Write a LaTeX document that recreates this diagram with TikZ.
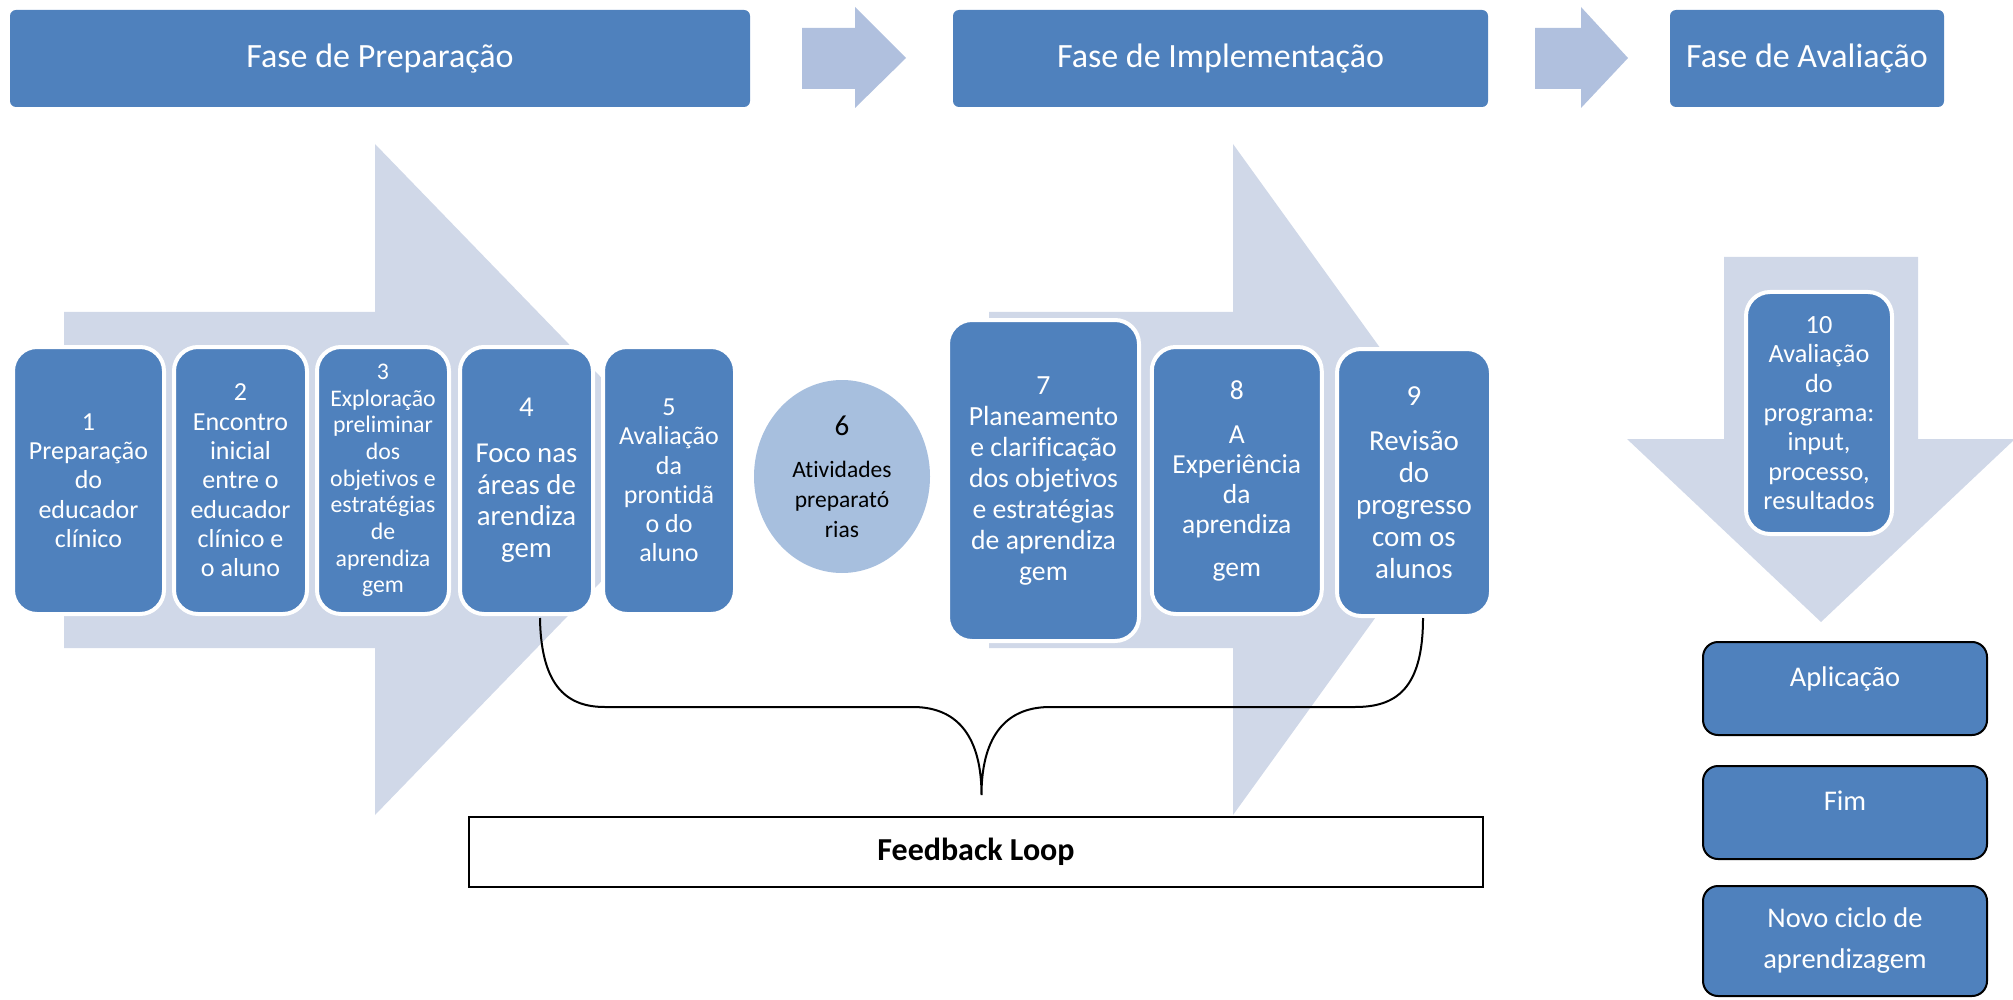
\documentclass[tikz,border=0pt]{standalone}
\usepackage{fontspec}
\setmainfont{Carlito}[Ligatures=NoCommon]
\usetikzlibrary{shapes.geometric}
\definecolor{boxblue}{HTML}{4F81BD}
\definecolor{bigarrow}{HTML}{D0D8E8}
\definecolor{hdrarrow}{HTML}{B0C0DE}
\definecolor{circfill}{HTML}{A7BFDE}
\newcommand{\setfs}[2]{\fontsize{#1}{#2}\selectfont}
\begin{document}
\begin{tikzpicture}[x=1pt,y=-1pt,
  hdrbox/.style={rectangle, rounded corners=6pt, fill=boxblue, text=white, inner sep=0pt, minimum height=97pt, font=\setfs{34}{40}},
  hdrarr/.style={fill=hdrarrow},
  bigarr/.style={fill=bigarrow},
  stepbox/.style={rectangle, rounded corners=24pt, fill=boxblue, draw=white, line width=4pt, text=white, align=center, inner sep=0pt},
  endbox/.style={rectangle, rounded corners=15pt, fill=boxblue, draw=black, line width=2pt, text=white, align=center, inner sep=0pt, minimum width=284pt, font=\setfs{28.5}{41}},
  circ/.style={ellipse, fill=circfill, text=black, align=center, inner sep=0pt},
  fbbox/.style={rectangle, draw=black, line width=2pt, fill=white, inner sep=0pt, font=\bfseries\setfs{32}{38}},
  bracel/.style={draw=black, line width=2pt}]
\useasboundingbox (0,0) rectangle (2013,1000);

% background big arrows
\fill[bigarr] (64,312) -- (375,312) -- (375,144) -- (700,479.5) -- (375,815) -- (375,648) -- (64,648) -- cycle;
\fill[bigarr] (989,312) -- (1233,312) -- (1233,144) -- (1475,479.5) -- (1233,815) -- (1233,648) -- (989,648) -- cycle;
\fill[bigarr] (1724,257) -- (1918,257) -- (1918,439) -- (2015,439) -- (1821,622) -- (1627,439) -- (1724,439) -- cycle;

% header
\node[hdrbox, minimum width=740pt] (h1) at (380,58.5) {Fase de Preparação};
\node[hdrbox, minimum width=535pt] (h2) at (1220.5,58.5) {Fase de Implementação};
\node[hdrbox, minimum width=274pt] (h3) at (1807,58.5) {Fase de Avaliação};
\fill[hdrarr] (802,28) -- (855,28) -- (855,7) -- (906,58) -- (855,108) -- (855,89) -- (802,89) -- cycle;
\fill[hdrarr] (1535,28) -- (1581,28) -- (1581,7) -- (1628,58) -- (1581,108) -- (1581,89) -- (1535,89) -- cycle;

% steps
\node[stepbox, minimum width=151pt, minimum height=267pt, font=\setfs{26}{29.3}] (s1) at (88.5,480.5)
  {1\\Preparação\\do\\educador\\clínico};
\node[stepbox, minimum width=133pt, minimum height=267pt, font=\setfs{26}{29.3}] (s2) at (240.5,480.5)
  {2\\Encontro\\inicial\\entre o\\educador\\clínico e\\o aluno};
\node[stepbox, minimum width=132pt, minimum height=267pt, font=\setfs{23.8}{26.7}] (s3) at (383,480.5)
  {3\\Exploração\\preliminar\\dos\\objetivos e\\estratégias\\de\\aprendiza\\gem};
\node[stepbox, minimum width=133pt, minimum height=267pt, font=\setfs{28.8}{31.7}] (s4) at (526.5,480.5)
  {4\\[14pt]Foco nas\\áreas de\\arendiza\\gem};
\node[stepbox, minimum width=132pt, minimum height=267pt, font=\setfs{26}{29.3}] (s5) at (669,480.5)
  {5\\Avaliação\\da\\prontidã\\o do\\aluno};
\node[circ, minimum width=176pt, minimum height=193pt, font=\setfs{23.5}{30}] (c6) at (842,476.5)
  {{\setfs{29}{30}6}\\[12pt]Atividades\\preparató\\rias};
\node[stepbox, minimum width=191pt, minimum height=321pt, font=\setfs{27.7}{31}] (s7) at (1043.5,480.5)
  {7\\Planeamento\\e clarificação\\dos objetivos\\e estratégias\\de aprendiza\\gem};
\node[stepbox, minimum width=170pt, minimum height=267pt, font=\setfs{27.5}{30}] (s8) at (1236.75,480.5)
  {8\\[14pt]A\\Experiência\\da\\aprendiza\\[13pt]gem};
\node[stepbox, minimum width=154pt, minimum height=267pt, font=\setfs{29}{32}] (s9) at (1414,482.5)
  {9\\[13pt]Revisão\\do\\progresso\\com os\\alunos};
\node[stepbox, minimum width=146pt, minimum height=242pt, font=\setfs{26.3}{29.3}] (s10) at (1819,413)
  {10\\Avaliação\\do\\programa:\\input,\\processo,\\resultados};

% end boxes
\node[endbox, minimum height=93pt, text height=20pt, text depth=24pt] (e1) at (1845,688.5) {Aplicação};
\node[endbox, minimum height=93pt, text height=20pt, text depth=24pt] (e2) at (1845,812.5) {Fim};
\node[endbox, minimum height=110pt] (e3) at (1845,941) {Novo ciclo de\\aprendizagem};

% feedback
\node[fbbox, minimum width=1014pt, minimum height=70pt] (fb) at (976,852) {Feedback Loop};

% brace
\coordinate (bL) at (540,618);
\coordinate (bR) at (1423,618);
\coordinate (bT) at (981.5,795);
\draw[bracel] (bL) .. controls (541,690) and (570,707) .. (605,707) -- (913,707)
  .. controls (960,707) and (981.5,740) .. (bT)
  .. controls (981.5,740) and (1003,707) .. (1050,707) -- (1355,707)
  .. controls (1395,707) and (1423,690) .. (bR);
\end{tikzpicture}
\end{document}
